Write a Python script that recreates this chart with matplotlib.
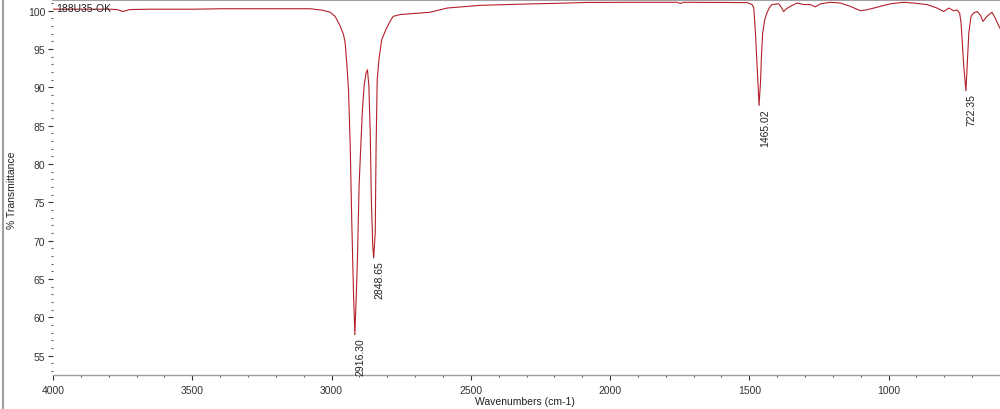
import matplotlib
matplotlib.use("Agg")
import matplotlib.pyplot as plt
from matplotlib.ticker import MultipleLocator
from matplotlib.lines import Line2D

# ---- data ----
wavenumbers = [4000, 3900, 3800, 3770, 3749, 3725, 3650, 3500, 3390, 3300, 3185, 3077, 3030,
               3005, 2987, 2969, 2957, 2951, 2945, 2939, 2933, 2927, 2921, 2916.3, 2912,
               2907, 2901, 2896, 2889, 2883, 2876, 2871, 2866, 2861, 2857, 2852, 2848.65,
               2843, 2840, 2836, 2830, 2820, 2804, 2790, 2779, 2754, 2700, 2646, 2585,
               2466, 2276, 2204, 2082, 1900, 1760, 1748, 1736, 1600, 1507, 1490, 1484,
               1478, 1472, 1465.02, 1460, 1456, 1452, 1445, 1437, 1428, 1419, 1395, 1386,
               1377, 1365, 1353, 1329, 1305, 1281, 1263, 1245, 1209, 1173, 1137, 1101,
               1080, 1053, 994, 946, 910, 862, 826, 802, 784, 766, 754, 745, 740, 736, 730,
               722.35, 718, 712, 704, 695, 682, 670, 661, 647, 629, 617, 603, 600]
transmittance = [100.2, 100.2, 100.2, 100.15, 99.9, 100.15, 100.2, 100.2, 100.26, 100.26,
                 100.26, 100.26, 100.05, 99.8, 99.26, 98.0, 96.9, 95.8, 93.0, 89.7, 82.5,
                 72.0, 63.0, 57.8, 62.0, 67.6, 77.2, 81.5, 87.1, 90.2, 91.9, 92.3, 90.2,
                 84.1, 75.4, 69.3, 67.8, 71.1, 82.4, 91.0, 93.6, 96.2, 97.6, 98.6, 99.26,
                 99.5, 99.65, 99.8, 100.35, 100.7, 100.9, 100.95, 101.08, 101.1, 101.1,
                 100.95, 101.1, 101.08, 101.05, 100.8, 100.35, 97.1, 92.7, 87.7, 90.6, 94.5,
                 97.1, 98.8, 99.7, 100.4, 100.8, 100.9, 100.5, 99.9, 100.3, 100.56, 101.0,
                 100.8, 100.8, 100.5, 100.9, 101.1, 101.0, 100.56, 100.0, 100.1, 100.35,
                 100.9, 101.1, 101.0, 100.8, 100.35, 99.9, 100.35, 100.0, 100.1, 99.7, 98.5,
                 96.2, 92.7, 89.6, 92.7, 97.1, 99.26, 99.7, 99.9, 99.4, 98.6, 99.26, 99.8,
                 99.05, 97.9, 97.7]

peak_positions = [2916.30, 2848.65, 1465.02, 722.35]
peak_values = [57.8, 67.8, 87.7, 89.6]
peak_labels = ["2916.30", "2848.65", "1465.02", "722.35"]

x_ticks = [4000, 3500, 3000, 2500, 2000, 1500, 1000]
y_ticks = [55, 60, 65, 70, 75, 80, 85, 90, 95, 100]

# ---- figure ----
plt.rcParams['font.family'] = ['Liberation Sans', 'DejaVu Sans']
fig = plt.figure(figsize=(10, 4.1), dpi=100)
ax = fig.add_axes([0.053, 0.083, 0.947, 0.9146])

line_color = '#b3202a'
ax.plot(wavenumbers, transmittance, color=line_color, lw=0.8)

ax.set_xlim(4000, 600)
ax.set_ylim(52.5, 101.4)
ax.set_xticks(x_ticks)
ax.set_yticks(y_ticks)
ax.xaxis.set_minor_locator(MultipleLocator(100))
ax.yaxis.set_minor_locator(MultipleLocator(1))

for s in ['left', 'right']:
    ax.spines[s].set_visible(False)
ax.spines['bottom'].set_color('#a0a0a0')
ax.spines['bottom'].set_linewidth(1.0)
ax.spines['top'].set_color('#a0a0a0')
ax.spines['top'].set_linewidth(1.5)

ax.tick_params(axis='both', which='major', labelsize=7.5, colors='#333333',
               length=3.5, width=0.8)
ax.tick_params(axis='both', which='minor', length=1.5, width=0.8, colors='#555555')
ax.tick_params(axis='y', which='both', pad=2)
ax.tick_params(axis='x', which='major', pad=4)

ax.set_xlabel('Wavenumbers (cm-1)', fontsize=7.5, color='#222222')
ax.set_ylabel('% Transmittance', fontsize=7.5, color='#222222')
ax.xaxis.set_label_coords(0.498, -0.069)
ax.yaxis.set_label_coords(-0.043, 0.496)
ax.xaxis.label.set_va('center')
ax.yaxis.label.set_va('center')

ax.text(0.0035, 0.978, '188U35-OK', transform=ax.transAxes, fontsize=7.5,
        color='#222222', ha='left', va='center')

for xp, yp, lab in zip(peak_positions, peak_values, peak_labels):
    ax.annotate(lab, xy=(xp, yp), xytext=(6, -3), textcoords='offset pixels',
                rotation=90, ha='center', va='top', fontsize=7.5, color='#222222',
                arrowprops=dict(arrowstyle='-', color='#222222', lw=0.6,
                                shrinkA=0, shrinkB=0))

# outer left border line of the window
fig.add_artist(Line2D([0.0025, 0.0025], [0, 1], transform=fig.transFigure,
                      color='#a0a0a0', lw=1.5))

fig.savefig('out.png', dpi=100, facecolor='white')
